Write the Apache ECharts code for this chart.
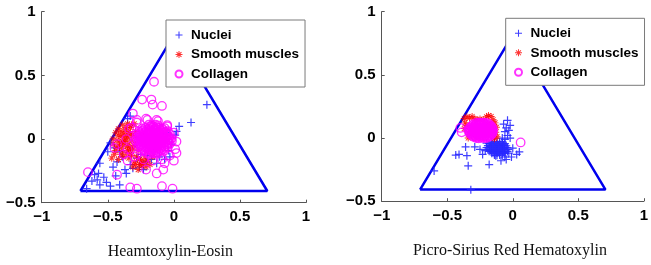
<!DOCTYPE html>
<html>
<head>
<meta charset="utf-8">
<script src="https://cdn.jsdelivr.net/npm/echarts@6/dist/echarts.min.js"></script>
<style>
html,body{margin:0;padding:0;background:#fff;}
#chart{width:651px;height:265px;}
</style>
</head>
<body>
<div id="chart"></div>
<script>
// ---------- data ----------
const seriesNames = ['Nuclei', 'Smooth muscles', 'Collagen'];
const captions = ['Heamtoxylin-Eosin', 'Picro-Sirius Red Hematoxylin'];
const xTicks = [-1, -0.5, 0, 0.5, 1];
const yTicks = [-0.5, 0, 0.5, 1];
const triangle = [[-0.7071, -0.4082], [0.7071, -0.4082], [0, 0.8165], [-0.7071, -0.4082]];

// Heamtoxylin-Eosin
const heNuclei = [
  [0.25,0.27],[0.13,0.13],[0.04,0.10],[0.02,0.06],[0.01,0.03],[-0.35,0.16],[-0.33,0.18],[-0.48,-0.03],[-0.45,-0.07],[-0.41,-0.10],[-0.50,-0.10],
  [-0.56,-0.19],[-0.57,-0.27],[-0.53,-0.30],[-0.58,-0.32],[-0.51,-0.34],[-0.56,-0.36],[-0.48,-0.37],[-0.41,-0.36],[-0.66,-0.39],
  [-0.36,-0.27],[-0.33,-0.20],[-0.37,-0.24],[-0.26,-0.22],[-0.21,-0.18],[-0.23,-0.24],[-0.31,-0.23],
  [-0.04,-0.09],[-0.03,-0.14],[-0.07,-0.16],[-0.11,-0.14],[-0.13,-0.19],[-0.17,-0.16],[-0.02,-0.04],[-0.05,0.05],[-0.08,0.02],
  [-0.28,-0.15],[-0.25,-0.12],[-0.20,-0.13],[-0.15,-0.10],[-0.43,-0.18],[-0.39,-0.14],[-0.46,-0.22],[-0.60,-0.28],[-0.62,-0.33],[-0.44,-0.29]
];
const heMuscle = [
  [-0.44,0.05],[-0.42,0.08],[-0.40,0.02],[-0.41,-0.03],[-0.43,-0.06],[-0.39,-0.09],[-0.37,0.07],[-0.36,0.03],[-0.37,-0.02],[-0.35,-0.06],
  [-0.36,-0.11],[-0.33,0.09],[-0.33,0.04],[-0.32,-0.01],[-0.34,-0.04],[-0.31,-0.08],[-0.32,-0.13],[-0.29,0.06],[-0.28,0.01],[-0.29,-0.04],
  [-0.27,-0.09],[-0.28,-0.14],[-0.25,-0.17],[-0.30,-0.18],[-0.38,-0.14],[-0.45,-0.12],[-0.47,-0.15],[-0.42,-0.16],[-0.27,-0.24],[-0.21,-0.22],
  [-0.23,-0.19],[-0.18,-0.20],[-0.24,0.04],[-0.22,-0.03],[-0.20,-0.10],[-0.16,-0.14],[-0.46,0.00],[-0.39,0.11],[-0.35,0.12],[-0.30,0.12],
  [-0.31,-0.22],[-0.26,-0.20],[-0.46,-0.04],
  [-0.42,0.03],[-0.40,0.06],[-0.38,-0.05],[-0.40,-0.12],[-0.44,-0.09],[-0.35,-0.09],[-0.37,0.00],[-0.34,0.06],[-0.31,0.03],[-0.30,-0.05],
  [-0.33,-0.11],[-0.43,-0.01],[-0.41,-0.06],[-0.38,0.04],[-0.36,0.09],[-0.32,0.11],[-0.26,-0.16],[-0.24,-0.21],[-0.29,-0.20],[-0.20,-0.17],
  [-0.39,-0.02],[-0.35,0.01],[-0.33,-0.07],[-0.34,-0.15],[-0.22,-0.15]
];
const heCollagen = [
  [-0.19,0.112],[-0.165,0.107],[-0.14,0.113],[-0.12,0.108],
  [-0.24,0.083],[-0.215,0.088],[-0.19,0.082],[-0.165,0.087],[-0.14,0.084],[-0.115,0.089],[-0.09,0.083],[-0.07,0.086],
  [-0.265,0.058],[-0.24,0.063],[-0.215,0.057],[-0.19,0.061],[-0.165,0.059],[-0.14,0.064],[-0.115,0.058],[-0.09,0.062],[-0.065,0.057],[-0.045,0.061],
  [-0.28,0.036],[-0.255,0.032],[-0.23,0.038],[-0.205,0.034],[-0.18,0.031],[-0.155,0.037],[-0.13,0.033],[-0.105,0.039],[-0.08,0.034],[-0.055,0.032],[-0.03,0.037],
  [-0.285,0.012],[-0.26,0.008],[-0.235,0.013],[-0.21,0.009],[-0.185,0.011],[-0.16,0.007],[-0.135,0.012],[-0.11,0.009],[-0.085,0.013],[-0.06,0.008],[-0.035,0.011],[-0.015,0.006],
  [-0.29,-0.013],[-0.265,-0.018],[-0.24,-0.012],[-0.215,-0.016],[-0.19,-0.014],[-0.165,-0.019],[-0.14,-0.013],[-0.115,-0.017],[-0.09,-0.012],[-0.065,-0.016],[-0.04,-0.014],[-0.015,-0.018],
  [-0.28,-0.038],[-0.255,-0.043],[-0.23,-0.037],[-0.205,-0.042],[-0.18,-0.039],[-0.155,-0.041],[-0.13,-0.036],[-0.105,-0.043],[-0.08,-0.038],[-0.055,-0.041],[-0.03,-0.037],
  [-0.27,-0.063],[-0.245,-0.067],[-0.22,-0.062],[-0.195,-0.066],[-0.17,-0.064],[-0.145,-0.068],[-0.12,-0.063],[-0.095,-0.066],[-0.07,-0.062],[-0.045,-0.067],
  [-0.245,-0.088],[-0.22,-0.092],[-0.195,-0.087],[-0.17,-0.091],[-0.145,-0.089],[-0.12,-0.093],[-0.095,-0.088],[-0.07,-0.091],
  [-0.205,-0.113],[-0.18,-0.117],[-0.155,-0.112],[-0.13,-0.116],[-0.105,-0.114],
  [-0.18,0.097],[-0.155,0.099],[-0.13,0.096],
  [-0.23,0.072],[-0.205,0.074],[-0.18,0.071],[-0.155,0.073],[-0.13,0.072],[-0.105,0.074],[-0.08,0.071],
  [-0.255,0.047],[-0.23,0.049],[-0.205,0.046],[-0.18,0.048],[-0.155,0.047],[-0.13,0.049],[-0.105,0.046],[-0.08,0.048],[-0.055,0.047],
  [-0.268,0.022],[-0.243,0.024],[-0.218,0.021],[-0.193,0.023],[-0.168,0.022],[-0.143,0.024],[-0.118,0.021],[-0.093,0.023],[-0.068,0.022],[-0.043,0.024],
  [-0.273,-0.003],[-0.248,-0.001],[-0.223,-0.004],[-0.198,-0.002],[-0.173,-0.003],[-0.148,-0.001],[-0.123,-0.004],[-0.098,-0.002],[-0.073,-0.003],[-0.048,-0.001],[-0.028,-0.004],
  [-0.268,-0.028],[-0.243,-0.026],[-0.218,-0.029],[-0.193,-0.027],[-0.168,-0.028],[-0.143,-0.026],[-0.118,-0.029],[-0.093,-0.027],[-0.068,-0.028],[-0.043,-0.026],
  [-0.255,-0.053],[-0.23,-0.051],[-0.205,-0.054],[-0.18,-0.052],[-0.155,-0.053],[-0.13,-0.051],[-0.105,-0.054],[-0.08,-0.052],[-0.055,-0.053],
  [-0.23,-0.078],[-0.205,-0.076],[-0.18,-0.079],[-0.155,-0.077],[-0.13,-0.078],[-0.105,-0.076],[-0.08,-0.079],
  [-0.19,-0.103],[-0.165,-0.101],[-0.14,-0.104],[-0.115,-0.102],
  [-0.36,0.0],[-0.34,0.08],[-0.28,0.13],[-0.20,0.15],[-0.12,0.14],[-0.05,0.11],[0.0,0.05],[0.02,-0.02],[0.01,-0.08],[-0.03,-0.13],
  [-0.09,-0.16],[-0.16,-0.17],[-0.23,-0.16],[-0.30,-0.14],[-0.35,-0.08],
  [-0.15,0.45],[-0.24,0.31],[-0.17,0.31],[-0.09,0.26],[-0.16,0.27],[-0.31,0.20],[-0.28,0.15],[-0.21,0.16],[-0.13,0.15],[-0.32,0.09],
  [-0.05,0.10],[0.02,-0.11],[0.0,-0.17],[-0.07,-0.19],[-0.08,-0.24],[-0.13,-0.27],[-0.21,-0.24],[-0.43,-0.28],[-0.65,-0.26],
  [-0.33,-0.38],[-0.28,-0.39],[-0.09,-0.37],[-0.01,-0.39],[-0.43,-0.04],[-0.45,-0.07],[-0.38,-0.12],[-0.35,-0.17],[-0.28,-0.12]
];

// Picro-Sirius Red Hematoxylin
const psNuclei = [
  [-0.16,-0.03],[-0.14,-0.032],[-0.12,-0.029],[-0.10,-0.031],[-0.08,-0.03],
  [-0.18,-0.045],[-0.16,-0.047],[-0.14,-0.044],[-0.12,-0.046],[-0.10,-0.045],[-0.08,-0.047],[-0.06,-0.044],
  [-0.19,-0.06],[-0.17,-0.062],[-0.15,-0.059],[-0.13,-0.061],[-0.11,-0.06],[-0.09,-0.062],[-0.07,-0.059],[-0.05,-0.061],
  [-0.20,-0.075],[-0.18,-0.077],[-0.16,-0.074],[-0.14,-0.076],[-0.12,-0.075],[-0.10,-0.077],[-0.08,-0.074],[-0.06,-0.076],[-0.04,-0.075],
  [-0.19,-0.09],[-0.17,-0.092],[-0.15,-0.089],[-0.13,-0.091],[-0.11,-0.09],[-0.09,-0.092],[-0.07,-0.089],[-0.05,-0.091],[-0.035,-0.09],
  [-0.18,-0.105],[-0.16,-0.107],[-0.14,-0.104],[-0.12,-0.106],[-0.10,-0.105],[-0.08,-0.107],[-0.06,-0.104],[-0.04,-0.106],
  [-0.16,-0.12],[-0.14,-0.122],[-0.12,-0.119],[-0.10,-0.121],[-0.08,-0.12],[-0.06,-0.122],
  [-0.14,-0.135],[-0.12,-0.137],[-0.10,-0.134],[-0.08,-0.136],
  [-0.17,-0.068],[-0.13,-0.068],[-0.09,-0.068],[-0.15,-0.083],[-0.11,-0.083],[-0.07,-0.083],[-0.17,-0.098],[-0.13,-0.098],[-0.09,-0.098],
  [-0.15,-0.113],[-0.11,-0.113],[-0.07,-0.113],[-0.15,-0.053],[-0.11,-0.053],[-0.07,-0.053],
  [-0.04,0.14],[-0.02,0.10],[-0.06,0.05],[-0.04,0.02],[-0.06,-0.01],[-0.05,0.08],[-0.03,0.06],[-0.07,0.11],[-0.02,0.0],[-0.08,0.0],
  [-0.36,-0.07],[-0.435,-0.135],[-0.41,-0.13],[-0.35,-0.14],[-0.34,-0.22],[-0.18,-0.21],[-0.60,-0.26],[-0.32,-0.41],[-0.29,-0.07],[-0.25,-0.09],[-0.23,-0.13],
  [0.05,-0.11],[0.03,-0.13],[-0.05,-0.17],[-0.06,-0.15],[-0.01,-0.15],[-0.09,-0.18],[-0.13,-0.14],[-0.03,-0.12],[0.0,-0.08],[-0.21,-0.10],[-0.20,-0.04]
];
const psMuscle = [
  [-0.37,0.155],[-0.35,0.168],[-0.33,0.158],[-0.31,0.171],[-0.29,0.152],[-0.27,0.14],
  [-0.20,0.168],[-0.185,0.178],[-0.165,0.17],[-0.15,0.145],[-0.135,0.12],[-0.125,0.085],[-0.13,0.045],[-0.12,0.01],[-0.14,-0.005],
  [-0.365,0.12],[-0.37,0.075],[-0.25,0.15],[-0.225,0.145],[-0.34,0.0],[-0.30,0.08],[-0.25,0.06],[-0.20,0.05],[-0.17,0.03],
  [-0.33,0.03],[-0.28,0.01],[-0.19,0.11],[-0.35,0.10]
];
const psCollagen = [
  [-0.28,0.12],[-0.26,0.122],[-0.24,0.119],[-0.22,0.121],[-0.20,0.12],
  [-0.30,0.11],[-0.28,0.108],[-0.26,0.111],[-0.24,0.109],[-0.22,0.11],[-0.20,0.108],[-0.18,0.111],
  [-0.31,0.10],[-0.29,0.098],[-0.27,0.101],[-0.25,0.099],[-0.23,0.10],[-0.21,0.098],[-0.19,0.101],[-0.17,0.099],
  [-0.32,0.09],[-0.30,0.088],[-0.28,0.091],[-0.26,0.089],[-0.24,0.09],[-0.22,0.088],[-0.20,0.091],[-0.18,0.089],[-0.16,0.09],
  [-0.33,0.08],[-0.31,0.078],[-0.29,0.081],[-0.27,0.079],[-0.25,0.08],[-0.23,0.078],[-0.21,0.081],[-0.19,0.079],[-0.17,0.08],[-0.155,0.078],
  [-0.33,0.07],[-0.31,0.068],[-0.29,0.071],[-0.27,0.069],[-0.25,0.07],[-0.23,0.068],[-0.21,0.071],[-0.19,0.069],[-0.17,0.07],[-0.155,0.068],
  [-0.34,0.06],[-0.32,0.058],[-0.30,0.061],[-0.28,0.059],[-0.26,0.06],[-0.24,0.058],[-0.22,0.061],[-0.20,0.059],[-0.18,0.06],[-0.16,0.058],[-0.15,0.061],
  [-0.33,0.05],[-0.31,0.048],[-0.29,0.051],[-0.27,0.049],[-0.25,0.05],[-0.23,0.048],[-0.21,0.051],[-0.19,0.049],[-0.17,0.05],[-0.155,0.048],
  [-0.33,0.04],[-0.31,0.038],[-0.29,0.041],[-0.27,0.039],[-0.25,0.04],[-0.23,0.038],[-0.21,0.041],[-0.19,0.039],[-0.17,0.04],[-0.155,0.038],
  [-0.32,0.03],[-0.30,0.028],[-0.28,0.031],[-0.26,0.029],[-0.24,0.03],[-0.22,0.028],[-0.20,0.031],[-0.18,0.029],[-0.16,0.03],
  [-0.31,0.02],[-0.29,0.018],[-0.27,0.021],[-0.25,0.019],[-0.23,0.02],[-0.21,0.018],[-0.19,0.021],[-0.17,0.019],
  [-0.30,0.01],[-0.28,0.008],[-0.26,0.011],[-0.24,0.009],[-0.22,0.01],[-0.20,0.008],[-0.18,0.011],
  [-0.28,0.0],[-0.26,-0.002],[-0.24,0.001],[-0.22,-0.001],[-0.20,0.0],
  [-0.39,0.045],[-0.40,0.08],[0.06,-0.035]
];

// ---------- styling ----------
const PLUS = 'path://M4.25,0H5.75V4.25H10V5.75H5.75V10H4.25V5.75H0V4.25H4.25Z';
const STAR = 'path://M0,4.3H10V5.7H0Z M4.3,0H5.7V10H4.3Z M1,2L2,1L9,8L8,9Z M8,1L9,2L2,9L1,8Z';
const fmt = v => (v < 0 ? '\u2212' + String(-v) : String(v));
const labelFont = { color: '#000', fontWeight: 'bold', fontSize: 15, fontFamily: 'Liberation Sans, Arial, sans-serif' };

const grids = [
  { left: 41.7, top: 11.7, width: 264.3, height: 191 },
  { left: 381.7, top: 11.7, width: 263.3, height: 189.5 }
];
function xAx(i) {
  return {
    gridIndex: i, type: 'value', min: xTicks[0], max: xTicks[xTicks.length - 1], interval: 0.5,
    axisLine: { onZero: false, lineStyle: { color: '#555', width: 1 } },
    axisTick: { inside: true, length: 3, lineStyle: { color: '#555' } },
    splitLine: { show: false },
    axisLabel: Object.assign({ margin: 7, formatter: fmt }, labelFont)
  };
}
function yAx(i) {
  return {
    gridIndex: i, type: 'value', min: yTicks[0], max: yTicks[yTicks.length - 1], interval: 0.5,
    axisLine: { show: true, onZero: false, lineStyle: { color: '#555', width: 1 } },
    axisTick: { show: true, inside: true, length: 3, lineStyle: { color: '#555' } },
    splitLine: { show: false },
    axisLabel: Object.assign({ margin: 6, formatter: fmt }, labelFont)
  };
}
function panel(i, nuc, mus, col) {
  return [
    { type: 'line', xAxisIndex: i, yAxisIndex: i, data: triangle, symbol: 'none',
      lineStyle: { color: '#0000ee', width: 2.5 }, silent: true, z: 1 },
    { name: seriesNames[0], type: 'scatter', xAxisIndex: i, yAxisIndex: i, data: nuc,
      symbol: PLUS, symbolSize: 8, itemStyle: { color: '#2a2aff', opacity: 0.9 }, z: 2 },
    { name: seriesNames[1], type: 'scatter', xAxisIndex: i, yAxisIndex: i, data: mus,
      symbol: STAR, symbolSize: 7, itemStyle: { color: '#ff0000' }, z: 3 },
    { name: seriesNames[2], type: 'scatter', xAxisIndex: i, yAxisIndex: i, data: col,
      symbol: 'circle', symbolSize: 8.5, itemStyle: { color: 'rgba(0,0,0,0)', borderColor: '#ff00ff', borderWidth: 1.3 }, z: 4 }
  ];
}
function legend(left, top, padLeft) {
  return {
    left: left, top: top, orient: 'vertical',
    data: seriesNames,
    backgroundColor: '#fff', borderColor: '#7a7a7a', borderWidth: 1, borderRadius: 0,
    padding: [7, 6, 5, padLeft], itemGap: 3.5, itemWidth: 14, itemHeight: 7, symbolKeepAspect: true,
    textStyle: { color: '#000', fontWeight: 'bold', fontSize: 13.5, lineHeight: 16, fontFamily: 'Liberation Sans, Arial, sans-serif' },
    selectedMode: false
  };
}

const chart = echarts.init(document.getElementById('chart'), null, { renderer: 'canvas' });
chart.setOption({
  animation: false,
  backgroundColor: '#fff',
  grid: grids,
  xAxis: [xAx(0), xAx(1)],
  yAxis: [yAx(0), yAx(1)],
  legend: [legend(166, 20, 8.5), legend(505.7, 18.3, 8.3)],
  series: panel(0, heNuclei, heMuscle, heCollagen).concat(panel(1, psNuclei, psMuscle, psCollagen)),
  graphic: [
    { type: 'text', x: 170.3, y: 251.7,
      style: { text: captions[0], fill: '#111', font: '16px "Liberation Serif", "Times New Roman", serif', align: 'center', verticalAlign: 'middle' } },
    { type: 'text', x: 510, y: 250.5,
      style: { text: captions[1], fill: '#111', font: '16px "Liberation Serif", "Times New Roman", serif', align: 'center', verticalAlign: 'middle' } }
  ]
});
</script>
</body>
</html>
